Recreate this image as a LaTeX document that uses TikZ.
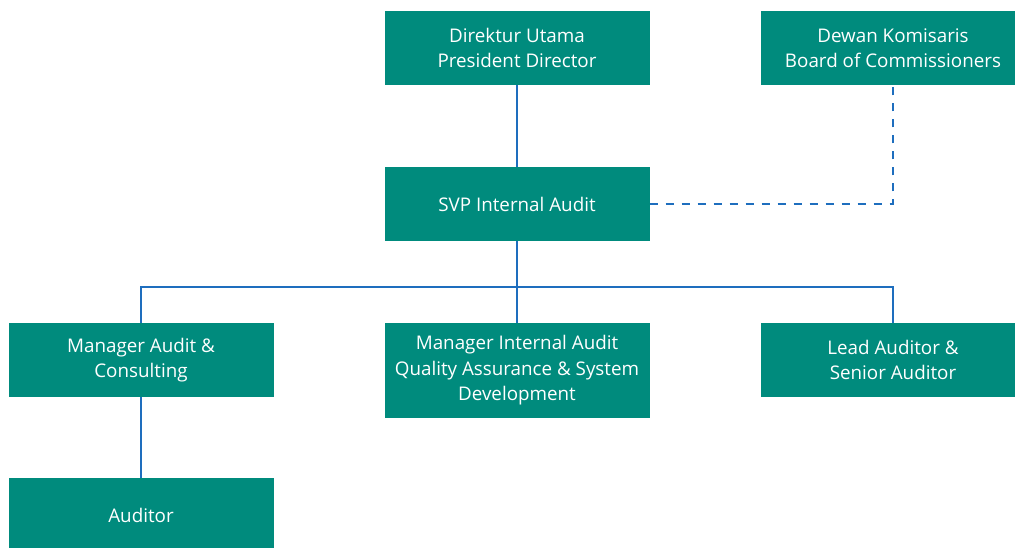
\documentclass[tikz,border=0pt]{standalone}
\usepackage{fontspec}
\setmainfont{Open Sans}
\definecolor{boxteal}{RGB}{0,139,125}
\definecolor{lineblue}{RGB}{30,110,190}
\tikzset{
	unit/.style={fill=boxteal, text=white, minimum width=265pt, minimum height=74pt,
		inner sep=0pt, align=center, font=\fontsize{18.8}{25.5}\selectfont},
	link/.style={draw=lineblue, line width=2pt},
	advise/.style={link, dash pattern=on 8pt off 8pt}
}

\begin{document}
\begin{tikzpicture}[x=1pt,y=-1pt]
	\clip (0,0) rectangle (1015,547);
	\node (dirut) [unit] at (517,48) {Direktur Utama\\President Director};
	\node (dekom) [unit] at (893,48) {Dewan Komisaris\\Board of Commissioners};
	\node (svp) [unit] at (517,204) {SVP Internal Audit};
	\coordinate (bus) at (517,287);
	\node (mac) [unit] at (141,360) {Manager Audit \&\\Consulting};
	\node (mqa) [unit, minimum height=95pt] at (517,370.5) {Manager Internal Audit\\Quality Assurance \& System\\Development};
	\node (lead) [unit] at (893,360) {Lead Auditor \&\\Senior Auditor};
	\node (aud) [unit] at (141,515) {Auditor};

	\draw[link] (dirut) -- (svp);
	\draw[link] (svp) -- (bus);
	\draw[link] (bus) -- (mqa);
	\draw[link] (bus) -| (mac);
	\draw[link] (bus) -| (lead);
	\draw[link] (mac) -- (aud);
	\draw[advise] (svp) -| (dekom);
\end{tikzpicture}
\end{document}
